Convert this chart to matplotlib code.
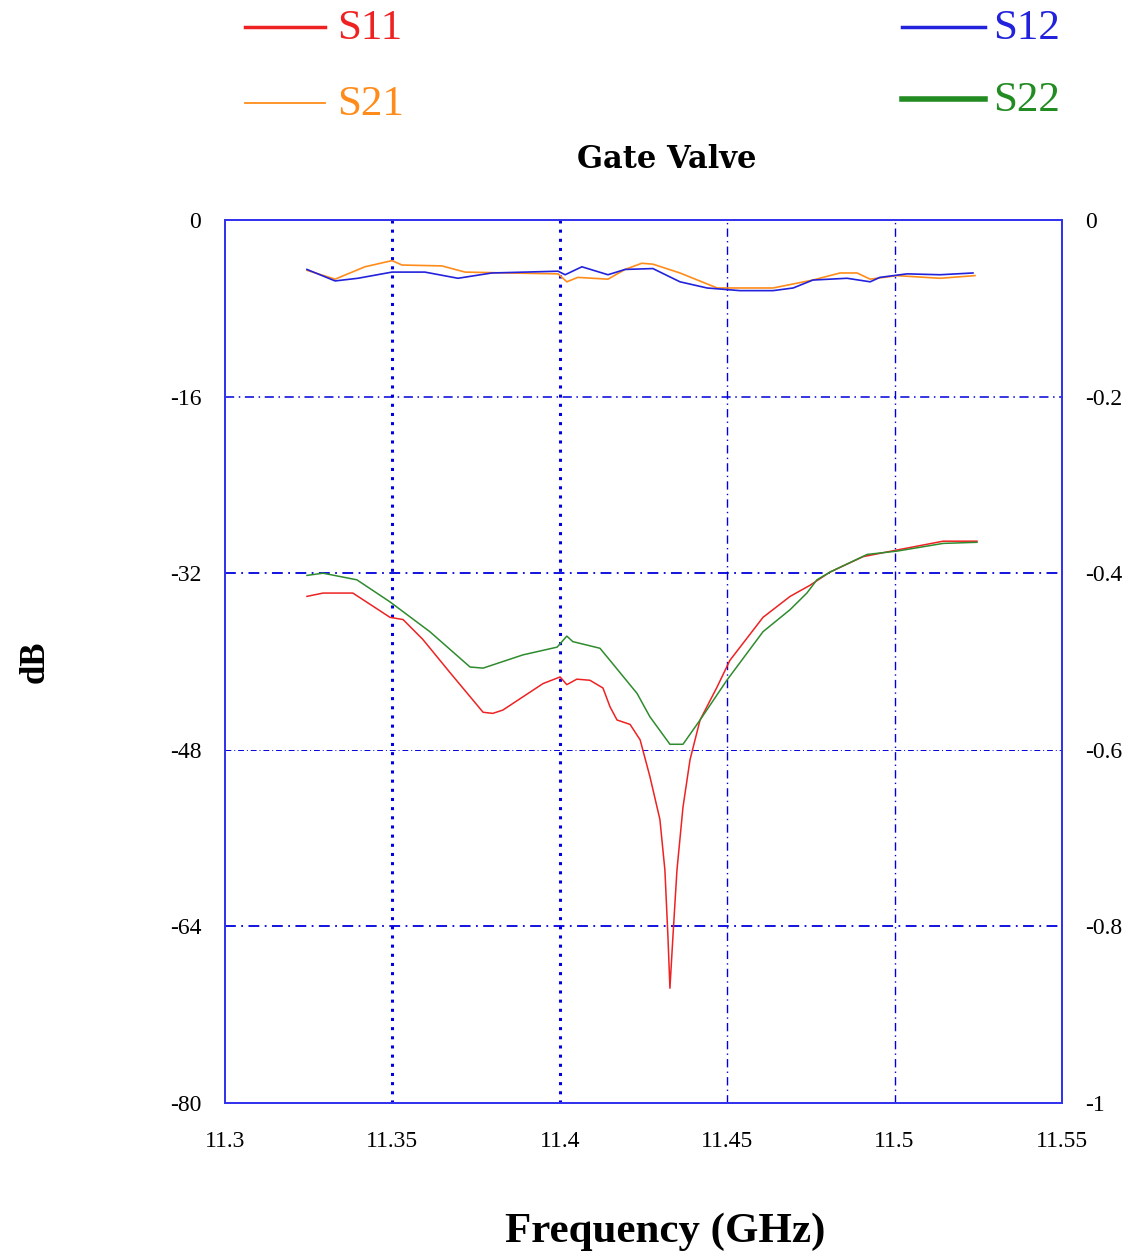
import matplotlib.pyplot as plt
from matplotlib.lines import Line2D
import numpy as np

plt.rcParams['font.family'] = ['Liberation Serif', 'DejaVu Serif']
plt.rcParams['axes.unicode_minus'] = False

# S11 / S22 : dB, left axis
f_s11 = [11.3245, 11.3293, 11.3382, 11.3493, 11.3532, 11.3591, 11.3672, 11.3771,
         11.3800, 11.3830, 11.3890, 11.3950, 11.4001, 11.4021, 11.4051, 11.4090,
         11.4129, 11.4150, 11.4171, 11.4210, 11.4240, 11.4269, 11.4299, 11.4314,
         11.4323, 11.4329, 11.4338, 11.4350, 11.4368, 11.4389, 11.4419, 11.4470,
         11.4508, 11.4607, 11.4688, 11.4747, 11.4807, 11.4906, 11.5007, 11.5145,
         11.5246]
s11 = [-34.1, -33.8, -33.8, -36.0, -36.2, -38.0, -41.0, -44.6,
       -44.7, -44.4, -43.2, -42.0, -41.4, -42.1, -41.6, -41.7,
       -42.4, -44.1, -45.3, -45.7, -47.1, -50.4, -54.3, -58.9,
       -64.9, -69.6, -64.9, -58.9, -53.2, -48.9, -45.3, -42.3,
       -39.9, -36.0, -34.1, -33.1, -31.9, -30.5, -29.9, -29.1,
       -29.1]

f_s22 = [11.3245, 11.3293, 11.3394, 11.3493, 11.3612, 11.3732, 11.3771, 11.3890,
         11.3992, 11.4021, 11.4039, 11.4120, 11.4150, 11.4231, 11.4269, 11.4329,
         11.4368, 11.4419, 11.4499, 11.4607, 11.4688, 11.4738, 11.4768, 11.4807,
         11.4918, 11.5007, 11.5145, 11.5246]
s22 = [-32.2, -32.0, -32.6, -34.6, -37.3, -40.5, -40.6, -39.4,
       -38.7, -37.7, -38.2, -38.8, -39.9, -42.9, -45.0, -47.5,
       -47.5, -45.3, -41.7, -37.3, -35.3, -33.8, -32.6, -31.9,
       -30.3, -30.0, -29.3, -29.2]

# S21 / S12 : right axis
f_s21 = [11.3245, 11.3329, 11.3418, 11.3499, 11.3529, 11.3648, 11.3717, 11.3845,
         11.3995, 11.4021, 11.4054, 11.4144, 11.4195, 11.4245, 11.4278, 11.4359,
         11.4470, 11.4538, 11.4637, 11.4756, 11.4837, 11.4888, 11.4927, 11.5007,
         11.5136, 11.5240]
s21 = [-0.057, -0.067, -0.053, -0.046, -0.051, -0.052, -0.059, -0.060,
       -0.061, -0.070, -0.065, -0.067, -0.056, -0.049, -0.050, -0.060,
       -0.077, -0.077, -0.077, -0.068, -0.060, -0.060, -0.067, -0.063,
       -0.066, -0.063]

f_s12 = [11.3245, 11.3329, 11.3397, 11.3499, 11.3597, 11.3696, 11.3797, 11.3995,
         11.4016, 11.4066, 11.4144, 11.4195, 11.4278, 11.4359, 11.4440, 11.4538,
         11.4637, 11.4697, 11.4756, 11.4858, 11.4927, 11.4956, 11.5037, 11.5136,
         11.5234]
s12 = [-0.056, -0.069, -0.066, -0.059, -0.059, -0.066, -0.060, -0.058,
       -0.062, -0.053, -0.062, -0.056, -0.055, -0.070, -0.077, -0.080,
       -0.080, -0.077, -0.068, -0.066, -0.070, -0.065, -0.061, -0.062,
       -0.060]

x_ticks = [11.3, 11.35, 11.4, 11.45, 11.5, 11.55]
x_labels = ['11.3', '11.35', '11.4', '11.45', '11.5', '11.55']
yl_ticks = [0, -16, -32, -48, -64, -80]
yr_ticks = [0, -0.2, -0.4, -0.6, -0.8, -1]
yr_labels = ['0', '-0.2', '-0.4', '-0.6', '-0.8', '-1']

fig = plt.figure(figsize=(11.39, 12.6), dpi=100)
ax = fig.add_axes([0.1975, 0.1246, 0.7349, 0.7008])
ax2 = ax.twinx()

grid_blue = '#0000dd'
# vertical grid
for xv, lw, ls in [(11.35, 2.2, (0, (1, 2))), (11.4, 2.2, (0, (1, 2))),
                   (11.45, 1.0, (0, (6, 3, 1, 3))), (11.5, 1.0, (0, (6, 3, 1, 3)))]:
    ax.axvline(xv, color=grid_blue, lw=lw, ls=ls, zorder=1)
# horizontal grid
for yv, lw in [(-16, 1.1), (-32, 1.3), (-48, 0.7), (-64, 1.3)]:
    ax.axhline(yv, color=grid_blue, lw=lw, ls=(0, (6, 3, 1, 3)), zorder=1)

ax.plot(f_s11, s11, color='#ee2222', lw=1.1, zorder=3)
ax.plot(f_s22, s22, color='#2e8b2e', lw=1.1, zorder=3)
ax2.plot(f_s21, s21, color='#ff8c1a', lw=1.2, zorder=3)
ax2.plot(f_s12, s12, color='#2222dd', lw=1.2, zorder=3)

ax.set_xlim(11.3, 11.55)
ax.set_ylim(-80, 0)
ax2.set_ylim(-1, 0)
ax.set_xticks(x_ticks)
ax.set_xticklabels(x_labels)
ax.set_yticks(yl_ticks)
ax2.set_yticks(yr_ticks)
ax2.set_yticklabels(yr_labels)
ax.tick_params(axis='y', length=0, labelsize=17, pad=17)
ax.tick_params(axis='x', length=0, labelsize=17, pad=20)
ax2.tick_params(length=0, labelsize=17, pad=17)
for a in (ax, ax2):
    for s in a.spines.values():
        s.set_color('#3333ee')
        s.set_linewidth(1.3)

W, H = 1139.0, 1260.0
def fx(px):
    return px / W
def fy(py):
    return 1 - py / H

# legend drawn by hand
legend_items = [('S11', '#ee2222', 2.5, 245, 325, 27, 337),
                ('S21', '#ff8c1a', 1.3, 245, 325, 103, 337),
                ('S12', '#2222dd', 2.5, 902, 985, 27, 993),
                ('S22', '#228b22', 4.0, 902, 985, 99, 993)]
for name, col, lw, x0, x1, yl, xt in legend_items:
    fig.add_artist(Line2D([fx(x0), fx(x1)], [fy(yl), fy(yl)], color=col, lw=lw))
    fig.text(fx(xt), fy(yl + 2), name, color=col, fontsize=31, ha='left', va='center')

fig.text(fx(667), fy(160), 'Gate Valve', fontsize=22, fontweight='bold', ha='center', va='center',
         family=['DejaVu Serif'])
fig.text(fx(35), fy(662), 'dB', fontsize=25, fontweight='bold', ha='center', va='center', rotation=90)
fig.text(fx(665), fy(1232), 'Frequency (GHz)', fontsize=31, fontweight='bold', ha='center', va='center')

fig.savefig('out.png', dpi=100)
